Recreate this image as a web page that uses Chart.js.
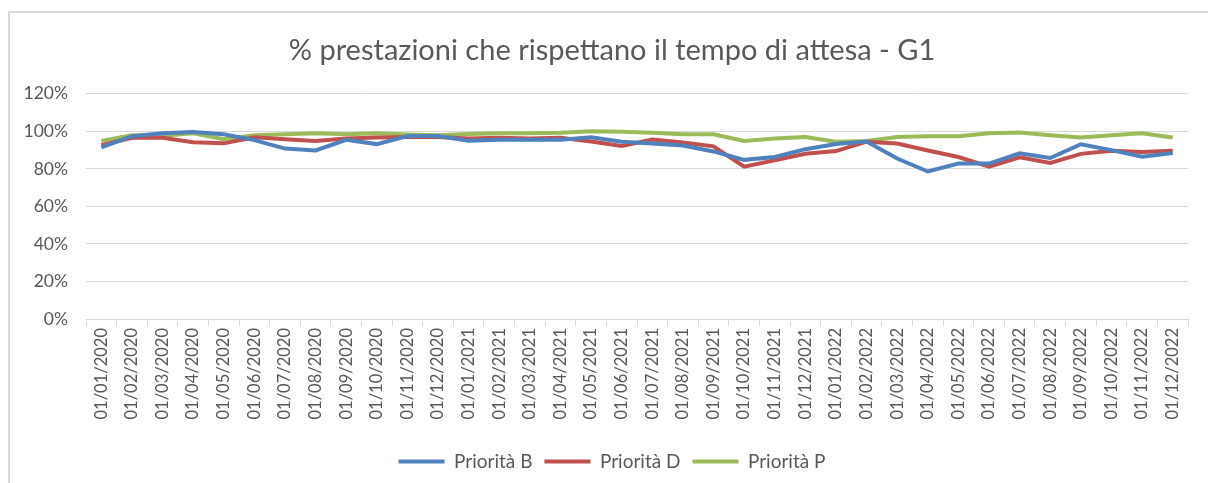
<!DOCTYPE html>
<html>
<head>
<meta charset="utf-8">
<script src="https://cdn.jsdelivr.net/npm/chart.js@4.4.1/dist/chart.umd.min.js"></script>
<style>
  html, body { margin: 0; padding: 0; background: #fff; overflow: hidden; }
  #frame { position: absolute; left: 8px; top: 11px; width: 1300px; height: 600px; border: 2px solid #d9d9d9; }
  #chart { position: absolute; left: 0; top: 0; }
</style>
</head>
<body>
<div id="frame"></div>
<canvas id="chart" width="1208" height="483"></canvas>
<script>
const months = [
  "01/01/2020", "01/02/2020", "01/03/2020", "01/04/2020", "01/05/2020", "01/06/2020",
  "01/07/2020", "01/08/2020", "01/09/2020", "01/10/2020", "01/11/2020", "01/12/2020",
  "01/01/2021", "01/02/2021", "01/03/2021", "01/04/2021", "01/05/2021", "01/06/2021",
  "01/07/2021", "01/08/2021", "01/09/2021", "01/10/2021", "01/11/2021", "01/12/2021",
  "01/01/2022", "01/02/2022", "01/03/2022", "01/04/2022", "01/05/2022", "01/06/2022",
  "01/07/2022", "01/08/2022", "01/09/2022", "01/10/2022", "01/11/2022", "01/12/2022"
];

const prioritaB = [91.5, 97.4, 99, 99.6, 98.4, 95.3, 90.8, 89.8, 95.5, 93.2, 97.5, 97.5,
                   95, 95.5, 95.5, 95.5, 96.8, 94.5, 93.5, 92.4, 89.3, 84.8, 86.3, 90.5,
                   93.2, 94.6, 85.5, 78.6, 82.8, 82.8, 88.3, 85.8, 93.1, 90, 86.5, 88.5];
const prioritaD = [92.6, 96.6, 96.6, 94.2, 93.6, 96.8, 95.8, 94.9, 96.2, 96.7, 97, 97,
                   96.2, 96.6, 96.2, 96.6, 94.6, 92.2, 95.6, 94, 92, 81.2, 84.6, 88,
                   89.5, 94.5, 93.5, 89.8, 86.3, 81.2, 86.2, 83.2, 88, 89.6, 89, 89.6];
const prioritaP = [94.9, 97.9, 97.6, 99, 95.8, 97.9, 98.4, 99, 98.4, 99, 98.3, 97.9,
                   98.6, 99, 99, 99.3, 100, 99.8, 99.3, 98.4, 98.4, 94.9, 96.2, 97,
                   94.4, 94.8, 97, 97.4, 97.4, 99, 99.4, 97.9, 96.7, 97.9, 99, 96.7];

const yTicks = [0, 20, 40, 60, 80, 100, 120];

const grey = '#595959';
const gridColor = '#d9d9d9';

Chart.defaults.font.family = "Lato, 'Open Sans', sans-serif";
Chart.defaults.font.size = 18;
Chart.defaults.color = grey;

// title and legend sit a little right of the centre in the original
const shiftBlocks = {
  id: 'shiftBlocks',
  afterLayout(chart) {
    [chart.titleBlock, chart.legend].forEach(b => {
      if (b) { b.left += 13; b.right += 13; }
    });
  }
};

const ctx = document.getElementById('chart').getContext('2d');

new Chart(ctx, {
  type: 'line',
  data: {
    labels: months,
    datasets: [
      { label: 'Priorità B', data: prioritaB, borderColor: '#4f81bd', backgroundColor: '#4f81bd' },
      { label: 'Priorità D', data: prioritaD, borderColor: '#c0504d', backgroundColor: '#c0504d' },
      { label: 'Priorità P', data: prioritaP, borderColor: '#9bbb59', backgroundColor: '#9bbb59' }
    ].map(d => Object.assign(d, { borderWidth: 4, pointRadius: 0, tension: 0, fill: false }))
  },
  plugins: [shiftBlocks],
  options: {
    responsive: false,
    animation: false,
    devicePixelRatio: 1,
    layout: { padding: { left: 10, right: 20, top: 0, bottom: 2 } },
    scales: {
      x: {
        offset: true,
        grid: { offset: true, drawOnChartArea: false, drawTicks: true, tickLength: 7, color: gridColor },
        border: { display: true, color: gridColor },
        ticks: { minRotation: 90, maxRotation: 90, autoSkip: false, padding: 2, color: grey, font: { size: 16.5 } },
        afterFit: (s) => { s.height = 121; }
      },
      y: {
        min: 0,
        max: 120,
        afterBuildTicks: (s) => { s.ticks = yTicks.map(v => ({ value: v })); },
        grid: { color: gridColor, drawTicks: false },
        border: { display: false },
        ticks: { padding: 18, color: grey, font: { size: 17.5 }, callback: (v) => v + '%' },
        afterFit: (s) => { s.width = 76; }
      }
    },
    plugins: {
      title: {
        display: true,
        text: '% prestazioni che rispettano il tempo di attesa - G1',
        color: grey,
        font: { size: 29, weight: 'normal' },
        padding: { top: 33, bottom: 26 }
      },
      legend: {
        position: 'bottom',
        labels: {
          usePointStyle: true,
          pointStyle: 'line',
          pointStyleWidth: 46,
          boxWidth: 46,
          padding: 12,
          color: grey,
          font: { size: 19 }
        }
      },
      tooltip: { enabled: false }
    }
  }
});
</script>
</body>
</html>
